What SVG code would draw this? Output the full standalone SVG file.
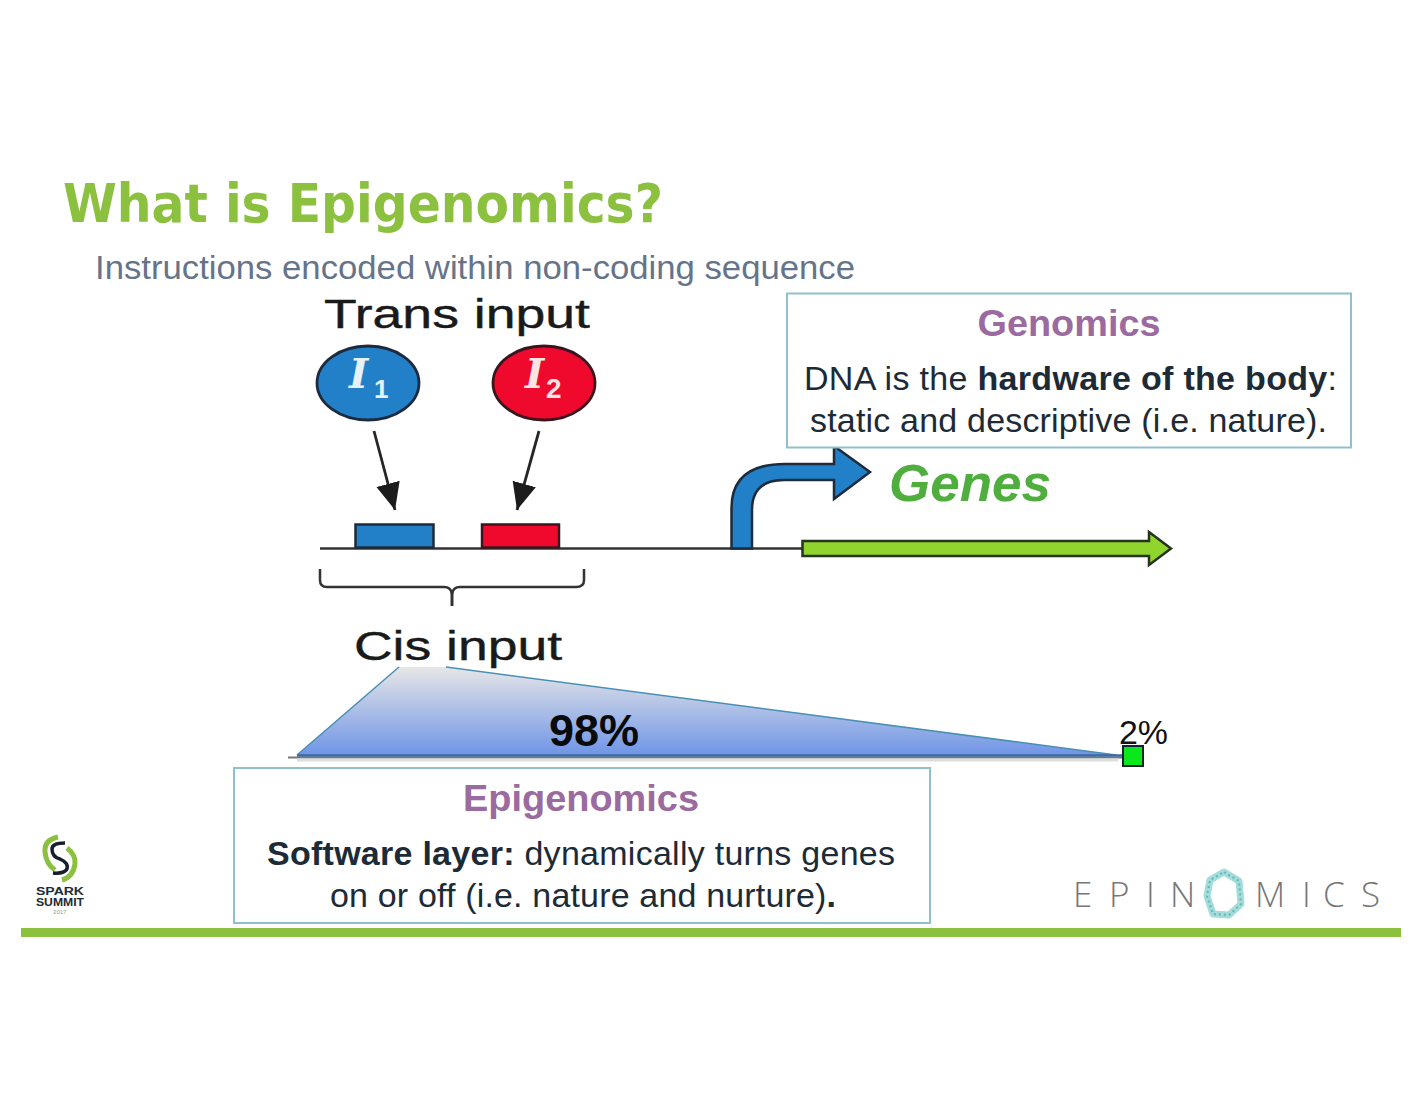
<svg xmlns="http://www.w3.org/2000/svg" width="1422" height="1100" viewBox="0 0 1422 1100">
<style>
text{font-family:"Liberation Sans",Arial,sans-serif}
.hd{font-size:37px;font-weight:bold;fill:#9b6a9f;text-anchor:middle}
.bd{font-size:34px;fill:#1d2b36}
.im{fill:#1a1a1a;stroke:#1a1a1a;stroke-width:.4}
.box{fill:#fff;stroke:#8fc1cc;stroke-width:2}
.ln{stroke:#333;stroke-width:2.5;fill:none}
.lg{font-size:35px;fill:#777;font-weight:300;font-family:"Open Sans",sans-serif}
.it{font-size:41px;font-weight:bold;font-style:italic;font-family:"DejaVu Serif",serif}
.sp{font-size:10.500px;font-weight:bold;fill:#1d2b36;text-anchor:middle}
</style>
<defs>
<linearGradient id="wedge" x1="0" y1="0" x2="0" y2="1"><stop offset="0" stop-color="#e6e6e6"/><stop offset="1" stop-color="#6f95e6"/></linearGradient>
<marker id="ah" markerUnits="userSpaceOnUse" markerWidth="28" markerHeight="26" refX="27" refY="13" orient="auto"><path d="M0 1L27 13L0 25Z" fill="#1c1c1c"/></marker>
</defs>
<rect width="1422" height="1100" fill="#fff"/>
<text id="title" x="63" y="222" font-size="53" font-weight="bold" fill="#8cc13f" style="font-family:'DejaVu Sans',sans-serif" textLength="600" lengthAdjust="spacingAndGlyphs">What is Epigenomics?</text>
<text id="subtitle" x="95" y="279" font-size="33" fill="#66748a" textLength="760" lengthAdjust="spacingAndGlyphs">Instructions encoded within non-coding sequence</text>
<g id="connectors">
<line class="ln" x1="320" y1="548.500" x2="810" y2="548.500"/>
<line x1="374" y1="431" x2="395" y2="510" stroke="#262626" stroke-width="2.800" marker-end="url(#ah)"/>
<line x1="539" y1="431" x2="517" y2="510" stroke="#262626" stroke-width="2.800" marker-end="url(#ah)"/>
<path class="ln" d="M320 569V580Q320 587 327 587H444Q451 587 452 594Q453 587 460 587H576Q584 587 584 580V569"/>
<line x1="452" y1="590" x2="452" y2="606" stroke="#333" stroke-width="3"/>
</g>
<g id="trans-input"><text class="im" x="457" y="328" font-size="41" text-anchor="middle" textLength="266" lengthAdjust="spacingAndGlyphs">Trans input</text></g>
<g id="i1"><ellipse cx="368" cy="383" rx="51" ry="37" fill="#2180c8" stroke="#1d2b3c" stroke-width="2.800"/><text class="it" x="349" y="388" fill="#e8f1f8">I</text><text x="374" y="398" font-size="26" font-weight="bold" fill="#e8f1f8">1</text></g>
<g id="i2"><ellipse cx="544" cy="383" rx="51" ry="37" fill="#ef0a2d" stroke="#3a1520" stroke-width="2.800"/><text class="it" x="525" y="388" fill="#fbe4e4">I</text><text x="546" y="398" font-size="28" font-weight="bold" fill="#fbe4e4">2</text></g>
<g id="site1"><rect x="355.500" y="524.500" width="78" height="23" fill="#2180c8" stroke="#1d2b3c" stroke-width="2.500"/></g>
<g id="site2"><rect x="482" y="524.500" width="77" height="23" fill="#ef0a2d" stroke="#3a1520" stroke-width="2.500"/></g>
<g id="cis-input"><text class="im" x="458" y="660" font-size="40" text-anchor="middle" textLength="208" lengthAdjust="spacingAndGlyphs">Cis input</text></g>
<g id="promoter"><path d="M731.500 548.500V508Q731.500 464 785 464H834V446L870 472L834 499V480H784Q752 480 752 510V548.500Z" fill="#2180c8" stroke="#1d2b3c" stroke-width="2.500"/></g>
<g id="genes"><text x="889" y="501" font-size="52" font-weight="bold" font-style="italic" fill="#4fae3e" textLength="162" lengthAdjust="spacingAndGlyphs">Genes</text></g>
<g id="gene-arrow"><path d="M802.500 541H1149V532L1171 548.500L1149 565V556H802.500Z" fill="#8fd52e" stroke="#26331f" stroke-width="2.500"/></g>
<g id="genomics"><rect class="box" x="787" y="293.500" width="564" height="154"/>
<text class="hd" x="1069" y="336" textLength="183" lengthAdjust="spacingAndGlyphs">Genomics</text>
<text class="bd" x="804" y="390" textLength="533" lengthAdjust="spacing">DNA is the <tspan font-weight="bold">hardware of the body</tspan>:</text>
<text class="bd" x="810" y="432" textLength="517" lengthAdjust="spacing">static and descriptive (i.e. nature).</text></g>
<g id="wedge-98"><line x1="288" y1="757.500" x2="1122" y2="757.500" stroke="#777" stroke-width="2"/>
<line x1="297" y1="760" x2="1118" y2="760" stroke="#ddd" stroke-width="3"/>
<path d="M297 755L399 667H446L1116 755Z" fill="url(#wedge)"/>
<path d="M297 755L399 667M446 667L1116 755" fill="none" stroke="#4a8fb5" stroke-width="1.500"/>
<line x1="297" y1="755.500" x2="1122" y2="755.500" stroke="#3c6a9c" stroke-width="2.500"/>
<text x="594" y="746" font-size="45" font-weight="bold" fill="#0a0a0a" text-anchor="middle">98%</text></g>
<g id="pct-2"><text x="1119" y="744" font-size="34" fill="#111" textLength="49" lengthAdjust="spacingAndGlyphs">2%</text><rect x="1123" y="746" width="20" height="20" fill="#08e81c" stroke="#123" stroke-width="2"/></g>
<g id="epigenomics"><rect class="box" x="234" y="768" width="696" height="155"/>
<text class="hd" x="581" y="811" textLength="236" lengthAdjust="spacingAndGlyphs">Epigenomics</text>
<text class="bd" x="267" y="865" textLength="628" lengthAdjust="spacing"><tspan font-weight="bold">Software layer:</tspan> dynamically turns genes</text>
<text class="bd" x="330" y="907" textLength="506" lengthAdjust="spacing">on or off (i.e. nature and nurture)<tspan font-weight="bold">.</tspan></text></g>
<g id="spark-logo">
<path d="M58 837Q44 840 45 852Q46 864 55 870" fill="none" stroke="#8cc13f" stroke-width="5"/>
<path d="M67 848Q76 855 75 864Q73 877 62 880" fill="none" stroke="#8cc13f" stroke-width="5"/>
<path d="M65 843Q52 843 52 849Q52 857 60 859Q69 863 67 869Q64 874 53 873" fill="none" stroke="#17202a" stroke-width="3.500"/>
<text class="sp" x="60" y="895" textLength="48" lengthAdjust="spacingAndGlyphs">SPARK</text>
<text class="sp" x="60" y="906" textLength="48" lengthAdjust="spacingAndGlyphs">SUMMIT</text>
<text x="60" y="914" font-size="6" fill="#9a9a7a" text-anchor="middle">2017</text></g>
<g id="epinomics-logo"><text class="lg" x="1073 1109 1146 1170" y="907">EPIN</text>
<path d="M1224 872L1239 881L1241 904L1229 915L1213 914L1207 896L1210 880Z" fill="none" stroke="#a3dcd9" stroke-width="7" stroke-linejoin="round"/>
<path d="M1224 872L1239 881L1241 904L1229 915L1213 914L1207 896L1210 880Z" fill="none" stroke="#5fb8b6" stroke-width="2" stroke-dasharray="2 3"/>
<text class="lg" x="1255 1302 1323 1361" y="907">MICS</text></g>
<rect id="footer-bar" x="21" y="928" width="1380" height="9" fill="#8cc13f"/>
</svg>
